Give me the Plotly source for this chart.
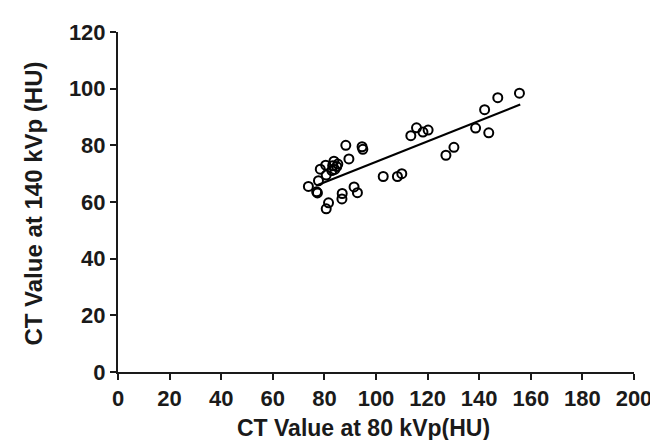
import plotly.graph_objects as go

# CT values at 80 kVp (x) and 140 kVp (y), HU
ct_80 = [73.8, 77.3, 77.0, 77.7, 78.4, 80.5, 80.7, 81.6, 80.7, 82.9, 83.7, 84.8, 85.2,
         83.2, 84.0, 88.3, 89.5, 91.5, 92.8, 86.9, 86.8, 94.6, 94.9, 102.8, 108.3, 110.0,
         113.5, 115.7, 118.2, 120.2, 127.1, 130.2, 138.6, 142.1, 143.7, 147.2, 155.6]
ct_140 = [65.5, 63.2, 63.6, 67.5, 71.6, 73.0, 69.5, 59.7, 57.6, 71.1, 74.4, 72.5, 73.4,
          72.8, 71.5, 80.0, 75.2, 65.3, 63.3, 63.0, 61.1, 79.5, 78.6, 69.0, 69.0, 70.0,
          83.4, 86.2, 84.7, 85.4, 76.5, 79.3, 86.1, 92.6, 84.4, 96.8, 98.4]

# regression line endpoints
fit_x = [77.4, 155.9]
fit_y = [66.0, 94.4]

x_ticks = list(range(0, 201, 20))
y_ticks = list(range(0, 121, 20))
x_title = "CT Value at 80 kVp(HU)"
y_title = "CT Value at 140 kVp (HU)"

fig = go.Figure()
fig.add_trace(go.Scatter(
    x=ct_80, y=ct_140, mode="markers",
    marker=dict(symbol="circle-open", size=9, color="black", line=dict(width=2, color="black")),
    showlegend=False, cliponaxis=False))
fig.add_trace(go.Scatter(
    x=fit_x, y=fit_y, mode="lines", line=dict(color="black", width=2.2),
    showlegend=False))

font_family = "Liberation Sans"
ink = "#1a1a1a"
tick_style = dict(showgrid=False, zeroline=False, showline=True, linecolor=ink, linewidth=2,
                  ticks="outside", ticklen=6, tickwidth=2, tickcolor=ink,
                  tickfont=dict(size=22, family=font_family, color=ink))
fig.update_layout(
    width=658, height=440,
    margin=dict(l=110, r=32, t=21, b=76),
    paper_bgcolor="white", plot_bgcolor="white",
    font=dict(family=font_family, color=ink),
    xaxis=dict(range=[0, 200], tickvals=x_ticks, ticktext=[f"<b>{v}</b>" for v in x_ticks],
               ticklabelstandoff=0, **tick_style),
    yaxis=dict(range=[0, 120], tickvals=y_ticks, ticktext=[f"<b>{v}</b>" for v in y_ticks],
               **tick_style),
    annotations=[
        dict(text=f"<b>{x_title}</b>", xref="paper", yref="paper", x=0.475, y=-0.165,
             xanchor="center", yanchor="middle", showarrow=False,
             font=dict(size=23, family=font_family, color=ink)),
        dict(text=f"<b>{y_title}</b>", xref="paper", yref="paper", x=-0.163, y=0.495,
             xanchor="center", yanchor="middle", textangle=-90, showarrow=False,
             font=dict(size=24, family=font_family, color=ink)),
    ],
)

fig.write_html("out.html")
